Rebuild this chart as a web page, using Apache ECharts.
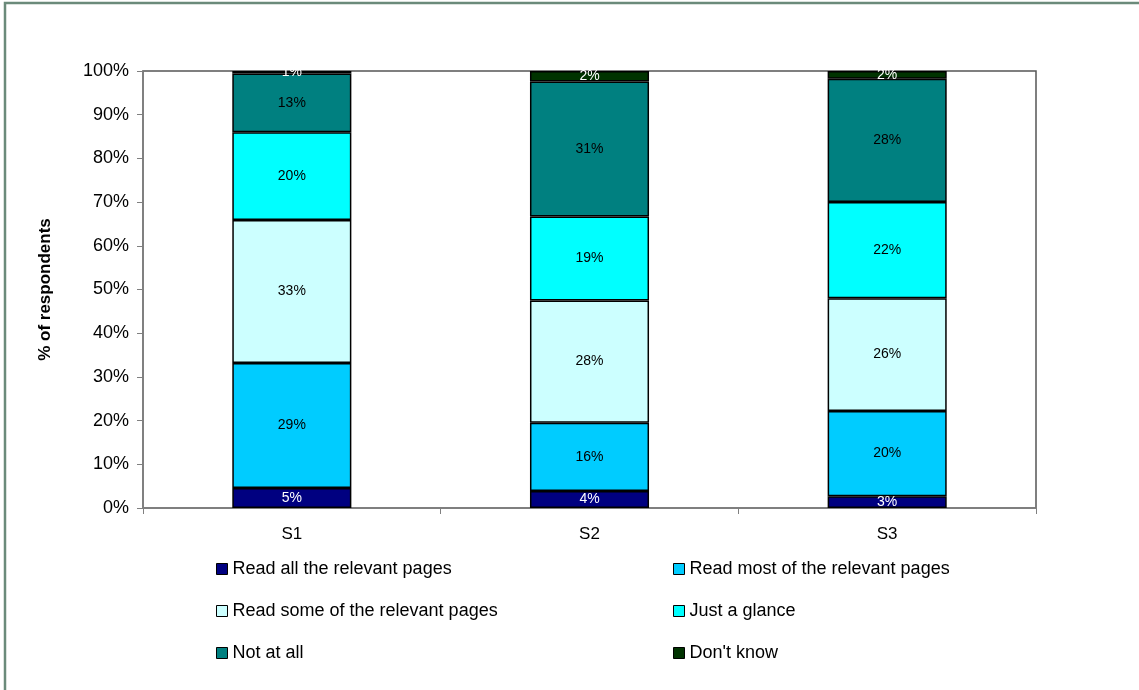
<!DOCTYPE html>
<html>
<head>
<meta charset="utf-8">
<script src="https://cdn.jsdelivr.net/npm/echarts@6/dist/echarts.min.js"></script>
<style>
html,body{margin:0;padding:0;background:#fff;}
#c{width:1139px;height:690px;}
</style>
</head>
<body>
<div id="c"></div>
<script>
var categories = ['S1', 'S2', 'S3'];
var seriesNames = ['Read all the relevant pages', 'Read most of the relevant pages', 'Read some of the relevant pages', 'Just a glance', 'Not at all', "Don't know"];
var readAll   = [4.6, 3.9, 2.7];
var readMost  = [28.6, 15.6, 19.5];
var readSome  = [32.7, 28.0, 25.8];
var justGlance = [20.1, 19.2, 22.0];
var notAtAll  = [13.4, 30.9, 28.2];
var dontKnow  = [0.6, 2.4, 1.8];
var yTicks = ['0%', '10%', '20%', '30%', '40%', '50%', '60%', '70%', '80%', '90%', '100%'];

var values = [readAll, readMost, readSome, justGlance, notAtAll, dontKnow];
var colors = ['#000080', '#00CCFF', '#CCFFFF', '#00FFFF', '#008080', '#003300'];
var labelColors = ['#ffffff', '#000000', '#000000', '#000000', '#000000', '#ffffff'];
var font = 'Liberation Sans, Arial, sans-serif';

var chart = echarts.init(document.getElementById('c'));
var series = values.map(function (arr, i) {
  return {
    name: seriesNames[i],
    type: 'bar',
    stack: 'total',
    barWidth: '40%',
    data: arr,
    itemStyle: { color: colors[i], borderColor: '#000', borderWidth: 1.5 },
    label: {
      show: true,
      position: 'inside',
      color: labelColors[i],
      fontFamily: font,
      fontSize: 14,
      formatter: function (p) { return Math.round(p.value) + '%'; }
    }
  };
});

var legendText = { fontFamily: font, fontSize: 18, color: '#000' };

chart.setOption({
  animation: false,
  backgroundColor: '#ffffff',
  graphic: [{
    type: 'polyline',
    shape: { points: [[5, 700], [5, 3], [1145, 3]] },
    style: { stroke: '#6b8a7a', lineWidth: 2.5, fill: null }
  }],
  grid: { left: 143, right: 103, top: 71, bottom: 182, show: true, borderColor: '#555', borderWidth: 1.5, backgroundColor: 'transparent' },
  legend: [{
    orient: 'vertical',
    left: 211, top: 555,
    itemWidth: 11, itemHeight: 11, itemGap: 24,
    icon: 'rect',
    itemStyle: { borderColor: '#000', borderWidth: 1 },
    textStyle: legendText,
    data: [seriesNames[0], seriesNames[2], seriesNames[4]]
  }, {
    orient: 'vertical',
    left: 668, top: 555,
    itemWidth: 11, itemHeight: 11, itemGap: 24,
    icon: 'rect',
    itemStyle: { borderColor: '#000', borderWidth: 1 },
    textStyle: legendText,
    data: [seriesNames[1], seriesNames[3], seriesNames[5]]
  }],
  xAxis: {
    type: 'category',
    data: categories,
    axisLine: { lineStyle: { color: '#808080', width: 1.5 } },
    axisTick: { show: true, length: 6, lineStyle: { color: '#808080' } },
    axisLabel: { color: '#000', fontFamily: font, fontSize: 17, margin: 18 }
  },
  yAxis: {
    type: 'value',
    min: 0, max: 100, interval: 10,
    name: '% of respondents',
    nameLocation: 'middle',
    nameGap: 89,
    nameRotate: 90,
    nameTextStyle: { color: '#000', fontFamily: font, fontSize: 17, fontWeight: 'bold' },
    splitLine: { show: false },
    axisLine: { show: true, lineStyle: { color: '#808080', width: 1.5 } },
    axisTick: { show: true, length: 6, lineStyle: { color: '#808080' } },
    axisLabel: {
      color: '#000', fontFamily: font, fontSize: 18, margin: 14,
      formatter: function (v) { return yTicks[Math.round(v / 10)]; }
    }
  },
  series: series
});
</script>
</body>
</html>
